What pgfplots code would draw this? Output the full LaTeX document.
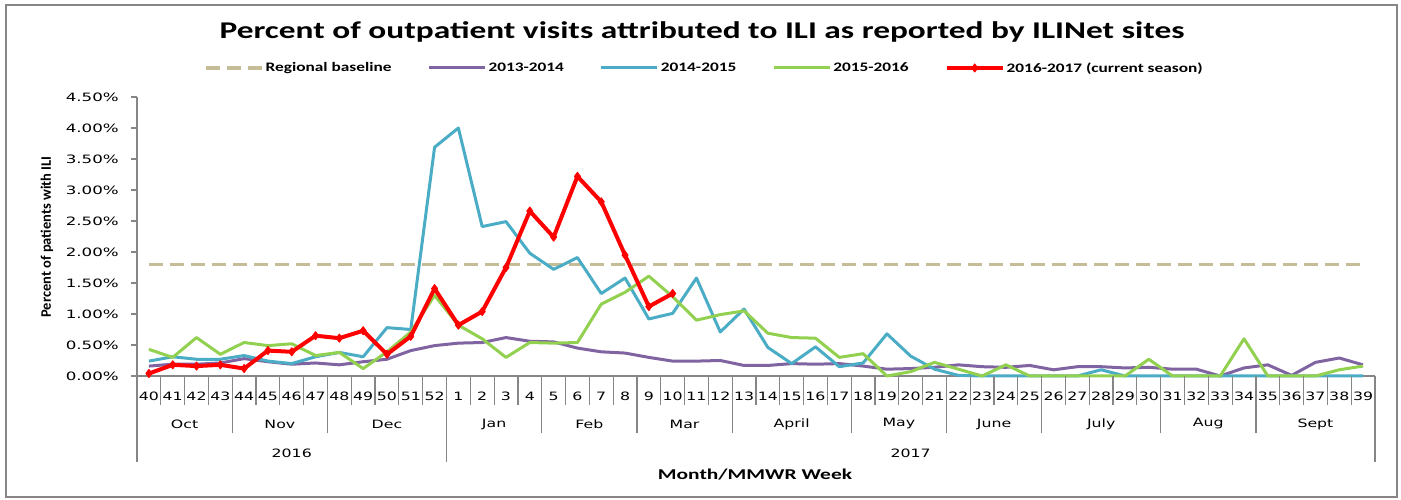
\documentclass[border=0pt]{standalone}
\usepackage{pgfplots}
\usepackage{pgfplotstable}
\usepackage{graphicx}
\usepackage{fontspec}
\pgfplotsset{compat=1.18}
\newfontfamily\cb{Carlito}
\newfontfamily\dv{DejaVu Sans}
\definecolor{cpur}{HTML}{8064A2}
\definecolor{cblu}{HTML}{4BACC6}
\definecolor{cgrn}{HTML}{92D050}
\definecolor{cred}{HTML}{FF0000}
\definecolor{cbase}{HTML}{C4BD97}
\definecolor{axgray}{HTML}{868686}

\pgfplotstableread{
x base purple blue green
0.5 1.8 0.16 0.24 0.43
1.5 1.8 0.19 0.31 0.30
2.5 1.8 0.19 0.27 0.62
3.5 1.8 0.21 0.27 0.35
4.5 1.8 0.28 0.33 0.54
5.5 1.8 0.23 0.24 0.49
6.5 1.8 0.19 0.20 0.52
7.5 1.8 0.21 0.31 0.33
8.5 1.8 0.18 0.38 0.38
9.5 1.8 0.23 0.31 0.12
10.5 1.8 0.27 0.78 0.39
11.5 1.8 0.41 0.75 0.71
12.5 1.8 0.49 3.69 1.30
13.5 1.8 0.53 4.00 0.82
14.5 1.8 0.54 2.41 0.60
15.5 1.8 0.62 2.49 0.30
16.5 1.8 0.56 1.98 0.54
17.5 1.8 0.55 1.72 0.53
18.5 1.8 0.45 1.91 0.54
19.5 1.8 0.39 1.33 1.16
20.5 1.8 0.37 1.58 1.35
21.5 1.8 0.30 0.92 1.61
22.5 1.8 0.24 1.01 1.28
23.5 1.8 0.24 1.58 0.90
24.5 1.8 0.25 0.71 0.99
25.5 1.8 0.17 1.08 1.05
26.5 1.8 0.17 0.46 0.69
27.5 1.8 0.20 0.20 0.62
28.5 1.8 0.19 0.47 0.61
29.5 1.8 0.20 0.15 0.30
30.5 1.8 0.16 0.21 0.36
31.5 1.8 0.11 0.68 0.00
32.5 1.8 0.12 0.32 0.07
33.5 1.8 0.14 0.11 0.22
34.5 1.8 0.18 0.01 0.11
35.5 1.8 0.15 0.00 0.00
36.5 1.8 0.14 0.00 0.18
37.5 1.8 0.17 0.00 0.00
38.5 1.8 0.10 0.00 0.00
39.5 1.8 0.15 0.00 0.00
40.5 1.8 0.15 0.10 0.00
41.5 1.8 0.13 0.00 0.00
42.5 1.8 0.14 0.00 0.27
43.5 1.8 0.11 0.00 0.00
44.5 1.8 0.11 0.00 0.00
45.5 1.8 0.00 0.00 0.00
46.5 1.8 0.13 0.00 0.60
47.5 1.8 0.18 0.00 0.00
48.5 1.8 0.01 0.00 0.00
49.5 1.8 0.22 0.00 0.00
50.5 1.8 0.29 0.00 0.10
51.5 1.8 0.18 0.00 0.16
}\seasons

\pgfplotstableread{
x red
0.5 0.04
1.5 0.18
2.5 0.16
3.5 0.18
4.5 0.12
5.5 0.41
6.5 0.39
7.5 0.65
8.5 0.61
9.5 0.73
10.5 0.35
11.5 0.64
12.5 1.41
13.5 0.82
14.5 1.04
15.5 1.75
16.5 2.66
17.5 2.24
18.5 3.22
19.5 2.81
20.5 1.95
21.5 1.12
22.5 1.33
}\current

\newcommand{\sx}[1]{\scalebox{1.37}[1]{#1}}
\newcommand{\sy}[1]{\scalebox{1.45}[1]{#1}}
\newcommand{\lx}[1]{\scalebox{1.33}[1]{#1}}

\begin{document}
\begin{tikzpicture}[x=1pt,y=1pt]
\useasboundingbox (0,0) rectangle (1401,500);
\draw[axgray, line width=2pt] (6,3) rectangle (1397,495);
\node[font=\cb\bfseries\fontsize{24}{27}\selectfont] at (702,468) {\scalebox{1.39}[1]{Percent of outpatient visits attributed to ILI as reported by ILINet sites}};
\node[rotate=90, font=\cb\bfseries\fontsize{14.5}{16}\selectfont] at (47,263) {Percent of patients with ILI};
\node[font=\cb\bfseries\fontsize{15}{17}\selectfont] at (755,25) {\scalebox{1.43}[1]{Month/MMWR Week}};
\begin{axis}[
  at={(137pt,124pt)}, anchor=south west,
  scale only axis, width=1238pt, height=279pt,
  xmin=0, xmax=52, ymin=0, ymax=4.5,
  clip=false,
  axis x line*=bottom, axis y line*=left,
  axis line style={draw=axgray, line width=1.5pt, -},
  ytick={0,0.5,...,4.5},
  ytick pos=left, tick align=outside,
  major tick length=6pt,
  ytick style={draw=axgray, line width=1.2pt},
  yticklabel style={font=\dv\fontsize{11.5}{12}\selectfont, anchor=east, inner sep=0pt, xshift=-12pt},
  yticklabel={\sy{\pgfmathprintnumber[fixed,fixed zerofill,precision=2,assume math mode=true]{\tick}\%}},
  xtick={0.5,1.5,...,51.5},
  xtick style={draw=none},
  xticklabel style={font=\dv\fontsize{11.5}{12}\selectfont, anchor=center, yshift=-14pt, inner sep=0pt},
  xticklabel={\pgfmathtruncatemacro{\wk}{mod(round(\tick-0.5)+39,52)+1}\sx{\wk}},
  legend style={at={(0.4584,1.104)}, anchor=center, draw=none, fill=none,
    font=\cb\bfseries\fontsize{13}{14}\selectfont,
    /tikz/every even column/.append style={column sep=34pt}},
  legend columns=5,
  legend image code/.code={\draw[mark repeat=2,mark phase=2,#1] plot coordinates {(0pt,0pt) (28pt,0pt) (56pt,0pt)};},
]
\addplot[cbase, line width=3.5pt, dash pattern=on 14pt off 7pt] table[x=x,y=base]{\seasons};
\addlegendentry{\lx{Regional baseline}}
\addplot[cpur, line width=3pt, line join=round] table[x=x,y=purple]{\seasons};
\addlegendentry{\lx{2013-2014}}
\addplot[cblu, line width=3pt, line join=round] table[x=x,y=blue]{\seasons};
\addlegendentry{\lx{2014-2015}}
\addplot[cgrn, line width=3pt, line join=round] table[x=x,y=green]{\seasons};
\addlegendentry{\lx{2015-2016}}
\addplot[cred, line width=4pt, line join=round, mark=diamond*, mark size=4pt, mark options={solid, fill=cred, line width=1pt}] table[x=x,y=red]{\current};
\addlegendentry{\lx{2016-2017 (current season)}}

\pgfplotsinvokeforeach{0,...,52}{\draw[axgray, line width=1.2pt] (axis cs:#1,0) -- ++(0pt,-29pt);}
\pgfplotsinvokeforeach{0,4,8,17,21,25,30,34,38,43,47,52}{\draw[axgray, line width=1.2pt] (axis cs:#1,0) -- ++(0pt,-57pt);}
\pgfplotsinvokeforeach{0,13,52}{\draw[axgray, line width=1.2pt] (axis cs:#1,0) -- ++(0pt,-86pt);}

\begin{scope}[every node/.style={font=\dv\fontsize{11.5}{12}\selectfont, inner sep=0pt}]
\node at (axis cs:2,0) [yshift=-48pt] {\sx{Oct}};
\node at (axis cs:6,0) [yshift=-48pt] {\sx{Nov}};
\node at (axis cs:10.5,0) [yshift=-48pt] {\sx{Dec}};
\node at (axis cs:15,0) [yshift=-48pt] {\sx{Jan}};
\node at (axis cs:19,0) [yshift=-48pt] {\sx{Feb}};
\node at (axis cs:23,0) [yshift=-48pt] {\sx{Mar}};
\node at (axis cs:27.5,0) [yshift=-48pt] {\sx{April}};
\node at (axis cs:32,0) [yshift=-48pt] {\sx{May}};
\node at (axis cs:36,0) [yshift=-48pt] {\sx{June}};
\node at (axis cs:40.5,0) [yshift=-48pt] {\sx{July}};
\node at (axis cs:45,0) [yshift=-48pt] {\sx{Aug}};
\node at (axis cs:49.5,0) [yshift=-48pt] {\sx{Sept}};
\node at (axis cs:6.5,0) [yshift=-77pt] {\sx{2016}};
\node at (axis cs:32.5,0) [yshift=-77pt] {\sx{2017}};
\end{scope}
\end{axis}
\end{tikzpicture}
\end{document}
